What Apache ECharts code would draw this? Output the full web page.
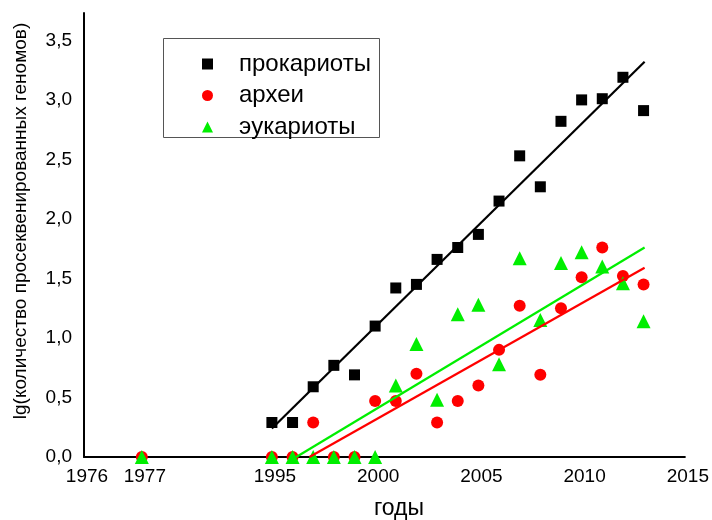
<!DOCTYPE html>
<html>
<head>
<meta charset="utf-8">
<script src="https://cdn.jsdelivr.net/npm/echarts@6/dist/echarts.min.js"></script>
<style>html,body{margin:0;padding:0;background:#fff}#c{width:712px;height:520px}</style>
</head>
<body>
<div id="c"></div>
<script>
// ---- data ----
const seriesNames = ['прокариоты', 'археи', 'эукариоты'];
const prokYears = [1995,1996,1997,1998,1999,2000,2001,2002,2003,2004,2005,2006,2007,2008,2009,2010,2011,2012,2013];
const prokVals  = [0.29,0.29,0.59,0.77,0.69,1.10,1.42,1.45,1.66,1.76,1.87,2.15,2.53,2.27,2.82,3.00,3.01,3.19,2.91];
const archYears = [1977,1995,1996,1997,1998,1999,2000,2001,2002,2003,2004,2005,2006,2007,2008,2009,2010,2011,2012,2013];
const archVals  = [0,0,0,0.29,0,0,0.47,0.47,0.70,0.29,0.47,0.60,0.90,1.27,0.69,1.25,1.51,1.76,1.52,1.45];
const eukYears  = [1977,1995,1996,1997,1998,1999,2000,2001,2002,2003,2004,2005,2006,2007,2008,2009,2010,2011,2012,2013];
const eukVals   = [0,0,0,0,0,0,0,0.60,0.95,0.48,1.20,1.28,0.78,1.67,1.15,1.63,1.72,1.60,1.46,1.14];
// trend lines (endpoints)
const prokTrendYears = [1995, 2013.05];
const prokTrendVals  = [0.24, 3.32];
const eukTrendYears  = [1996.18, 2013.05];
const eukTrendVals   = [0, 1.76];
const archTrendYears = [1996.82, 2013.05];
const archTrendVals  = [0, 1.59];
// tick labels
const xTickYears = [1976, 1977, 1995, 2000, 2005, 2010, 2015];
const yTicks = [0, 0.5, 1.0, 1.5, 2.0, 2.5, 3.0, 3.5];
const xTitle = 'годы';
const yTitle = 'lg(количество просеквенированных геномов)';

// broken x axis: years before 1995 are compressed
const breakYears = [1976, 1977];
const breakPos = [1985.9, 1988.7];
function toAxis(y) {
  const i = breakYears.indexOf(y);
  return i >= 0 ? breakPos[i] : y;
}
function pairs(xs, vs) { return xs.map((x, i) => [toAxis(x), vs[i]]); }
const xTickPos = xTickYears.map(toAxis);

const FONT = 'Liberation Sans, Arial, sans-serif';
const GREEN = '#00ee00';
const RED = '#ff0000';
const chart = echarts.init(document.getElementById('c'), null, {renderer: 'canvas'});
chart.setOption({
  animation: false,
  backgroundColor: '#fff',
  grid: {left: 84, right: 26, top: 13, bottom: 63, containLabel: false},
  xAxis: {
    type: 'value', min: toAxis(1976), max: 2015,
    axisLine: {show: true, onZero: false, lineStyle: {color: '#000', width: 2}},
    axisTick: {show: false},
    splitLine: {show: false},
    axisLabel: {
      customValues: xTickPos,
      color: '#000', fontFamily: FONT, fontSize: 19, margin: 10, padding: [0,0,0,6],
      formatter: function (v) {
        const i = xTickPos.findIndex(p => Math.abs(p - v) < 0.01);
        return i >= 0 ? String(xTickYears[i]) : '';
      }
    }
  },
  yAxis: {
    type: 'value', min: 0, max: 3.73,
    axisLine: {show: true, lineStyle: {color: '#000', width: 2}},
    axisTick: {show: false},
    splitLine: {show: false},
    axisLabel: {
      customValues: yTicks,
      color: '#000', fontFamily: FONT, fontSize: 19, margin: 12,
      formatter: v => v.toFixed(1).replace('.', ',')
    }
  },
  legend: {
    data: seriesNames,
    orient: 'vertical', left: 202, top: 52, padding: 0,
    itemWidth: 11, itemHeight: 11, itemGap: 7.5,
    textStyle: {fontFamily: FONT, fontSize: 24, color: '#000', lineHeight: 22, padding: [0,0,0,21]}
  },
  graphic: [
    {type: 'rect', shape: {x: 163.5, y: 38.5, width: 216, height: 99}, style: {fill: 'none', stroke: '#555', lineWidth: 1}, z: 0},
    {type: 'text', x: 399, y: 509, style: {text: xTitle, font: '23px ' + FONT, fill: '#000', align: 'center', verticalAlign: 'middle'}},
    {type: 'text', x: 21, y: 221, rotation: Math.PI / 2, style: {text: yTitle, font: '19px ' + FONT, fill: '#000', align: 'center', verticalAlign: 'middle'}}
  ],
  series: [
    {name: seriesNames[0], type: 'scatter', symbol: 'rect', symbolSize: 11, itemStyle: {color: '#000', opacity: 1}, data: pairs(prokYears, prokVals), z: 2},
    {name: seriesNames[1], type: 'scatter', symbol: 'circle', symbolSize: 12, itemStyle: {color: RED, opacity: 1}, data: pairs(archYears, archVals), z: 3},
    {name: seriesNames[2], type: 'scatter', symbol: 'triangle', symbolSize: 14, itemStyle: {color: GREEN, opacity: 1}, data: pairs(eukYears, eukVals), z: 4},
    {type: 'line', symbol: 'none', lineStyle: {color: '#000', width: 2.2}, data: pairs(prokTrendYears, prokTrendVals), z: 5},
    {type: 'line', symbol: 'none', lineStyle: {color: GREEN, width: 2.2}, data: pairs(eukTrendYears, eukTrendVals), z: 5},
    {type: 'line', symbol: 'none', lineStyle: {color: RED, width: 2.2}, data: pairs(archTrendYears, archTrendVals), z: 5}
  ]
});
</script>
</body>
</html>
